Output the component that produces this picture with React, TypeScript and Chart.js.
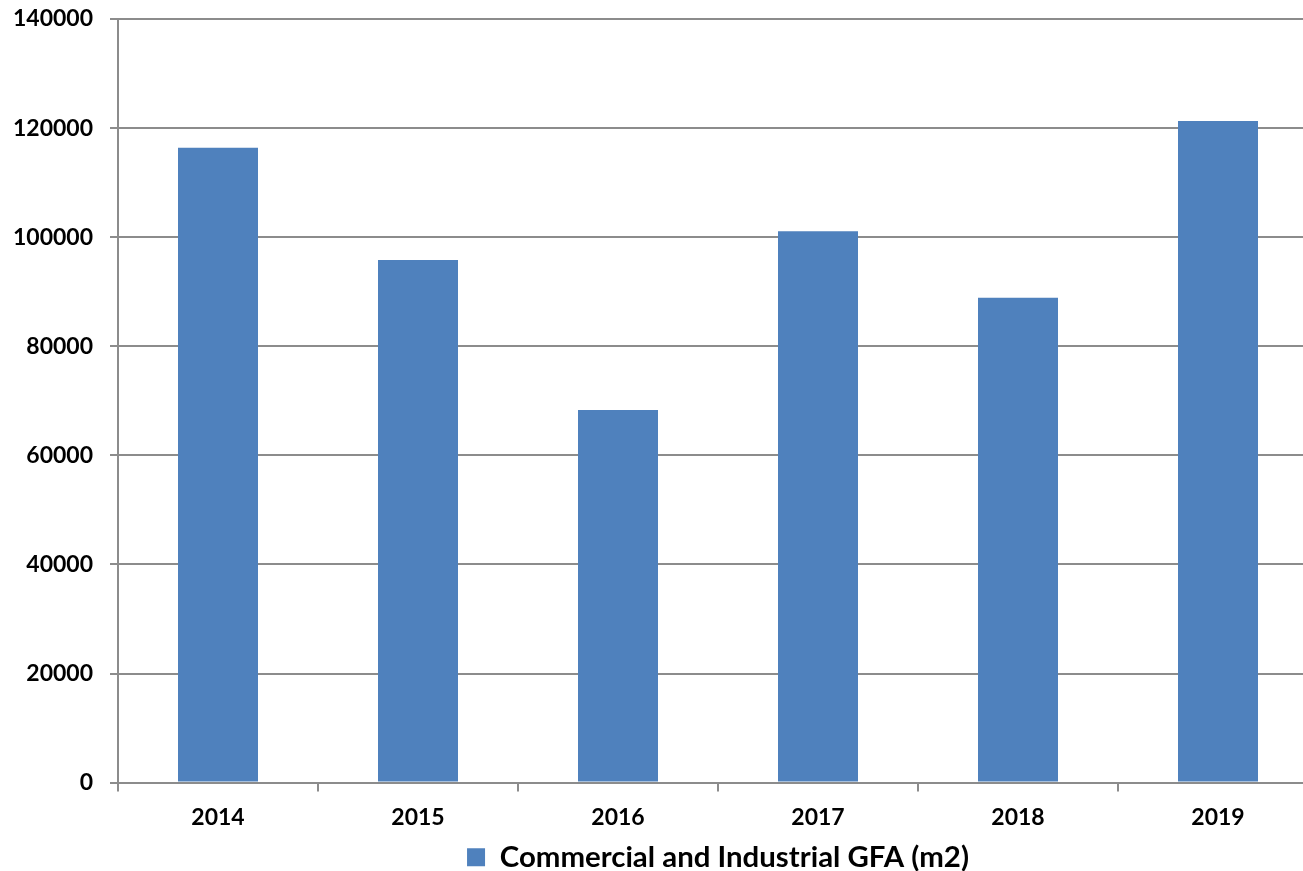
import React, { useEffect, useRef } from "react";
import { Chart, registerables } from "chart.js";

Chart.register(...registerables);

const categories = ["2014", "2015", "2016", "2017", "2018", "2019"];
const gfaValues = [116400, 95800, 68300, 101100, 88900, 121300];
const seriesLabel = "Commercial and Industrial GFA (m2)";
const yTicks = [0, 20000, 40000, 60000, 80000, 100000, 120000, 140000];

export default function App() {
  const ref = useRef<HTMLCanvasElement | null>(null);

  useEffect(() => {
    document.body.style.margin = "0";
    const ctx = ref.current!;
    const gridColor = "#8c8c8c";
    const fontFamily = "Lato, 'Open Sans', sans-serif";
    const chart = new Chart(ctx, {
      type: "bar",
      data: {
        labels: categories,
        datasets: [
          {
            label: seriesLabel,
            data: gfaValues,
            backgroundColor: "#4F81BD",
            borderWidth: 0,
            categoryPercentage: 1,
            barPercentage: 0.4,
          },
        ],
      },
      options: {
        animation: false,
        responsive: false,
        maintainAspectRatio: false,
        layout: { padding: { top: 19, right: 0, left: 0, bottom: -11 } },
        plugins: {
          tooltip: { enabled: false },
          legend: {
            position: "bottom",
            fullSize: false,
            labels: {
              color: "#000",
              boxWidth: 18,
              boxHeight: 18,
              padding: 4,
              font: { family: fontFamily, size: 29.4, weight: "bold" },
            },
          },
        },
        scales: {
          x: {
            grid: {
              display: true,
              drawOnChartArea: false,
              drawTicks: true,
              tickLength: 9,
              color: gridColor,
              lineWidth: 2,
              offset: true,
            },
            border: { display: true, color: gridColor, width: 2 },
            ticks: {
              color: "#000",
              padding: 12,
              font: { family: fontFamily, size: 23, weight: "bold" },
            },
            afterFit: (scale: any) => {
              scale.height = 56;
            },
          },
          y: {
            min: 0,
            max: 140000,
            afterBuildTicks: (scale: any) => {
              scale.ticks = yTicks.map((v) => ({ value: v }));
            },
            grid: {
              color: gridColor,
              lineWidth: 2,
              drawTicks: true,
              tickLength: 8,
            },
            border: { display: true, color: gridColor, width: 2 },
            ticks: {
              color: "#000",
              padding: 17,
              font: { family: fontFamily, size: 23, weight: "bold" },
              callback: (v: any) => String(v),
            },
            afterFit: (scale: any) => {
              scale.width = 118;
              scale.paddingTop = 0;
              scale.paddingBottom = 0;
            },
          },
        },
      },
    });
    return () => chart.destroy();
  }, []);

  return (
    <div style={{ width: 1303, height: 871, overflow: "hidden", background: "#fff" }}>
      <canvas ref={ref} width={1318} height={871} style={{ display: "block" }} />
    </div>
  );
}
